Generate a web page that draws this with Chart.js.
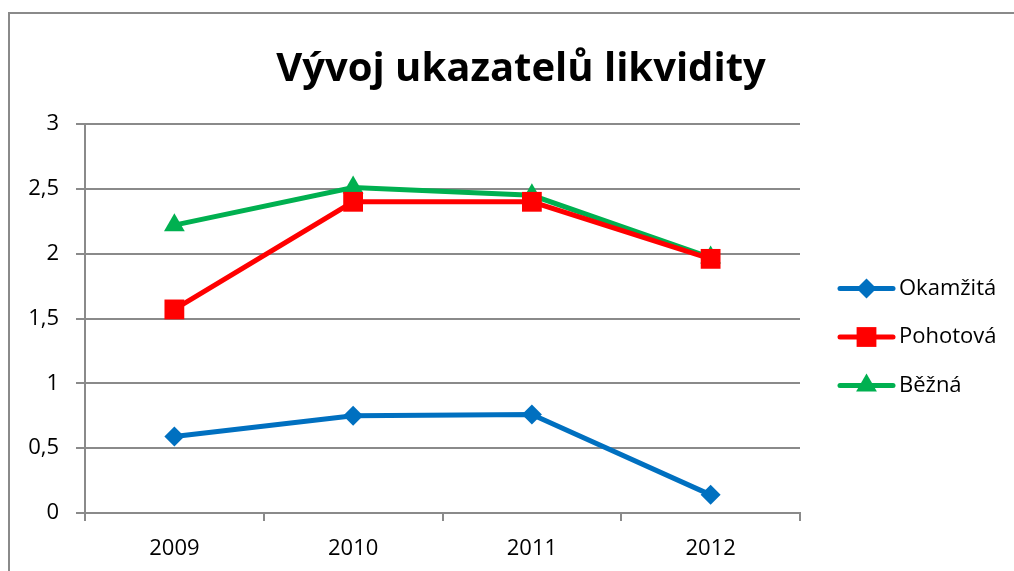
<!DOCTYPE html>
<html>
<head>
<meta charset="utf-8">
<script src="https://cdn.jsdelivr.net/npm/chart.js@4/dist/chart.umd.min.js"></script>
<style>
html,body{margin:0;padding:0;background:#fff;overflow:hidden;}
#wrap{width:1014px;height:571px;position:relative;}
</style>
</head>
<body>
<div id="wrap"><canvas id="c" width="1014" height="571"></canvas></div>
<script>
const categories = ['2009', '2010', '2011', '2012'];
const okamzita = [0.59, 0.75, 0.76, 0.14];
const pohotova = [1.57, 2.40, 2.40, 1.96];
const bezna = [2.22, 2.51, 2.45, 1.97];
const seriesNames = ['Okamžitá', 'Pohotová', 'Běžná'];
const yTicks = [0, 0.5, 1, 1.5, 2, 2.5, 3];
const titleText = 'Vývoj ukazatelů likvidity';

const FONT = "'Open Sans', sans-serif";
const GRID = '#8a8a8a';

const frame = {
  id: 'frame',
  beforeDraw(chart) {
    const ctx = chart.ctx;
    ctx.save();
    ctx.fillStyle = '#fff';
    ctx.fillRect(0, 0, chart.width, chart.height);
    ctx.strokeStyle = '#8a8a8a';
    ctx.lineWidth = 2;
    ctx.beginPath();
    ctx.moveTo(9, chart.height + 5);
    ctx.lineTo(9, 13);
    ctx.lineTo(chart.width + 5, 13);
    ctx.stroke();
    ctx.restore();
  },
  afterDraw(chart) {
    const ctx = chart.ctx;
    ctx.save();
    ctx.fillStyle = '#fff';
    ctx.fillRect(chart.width - 16, 15, 16, chart.height - 15);
    ctx.restore();
  }
};

const sideLegend = {
  id: 'sideLegend',
  afterDraw(chart) {
    const ctx = chart.ctx;
    const area = chart.chartArea;
    const x0 = area.right + 40, x1 = area.right + 93, tx = area.right + 99;
    const rowH = 48.5;
    const n = chart.data.datasets.length;
    const midY = 337;
    chart.data.datasets.forEach((ds, i) => {
      const y = midY + (i - (n - 1) / 2) * rowH;
      ctx.save();
      ctx.strokeStyle = ds.borderColor;
      ctx.lineWidth = ds.borderWidth;
      ctx.lineCap = 'round';
      ctx.beginPath();
      ctx.moveTo(x0, y);
      ctx.lineTo(x1, y);
      ctx.stroke();
      ctx.restore();
      ctx.save();
      ctx.fillStyle = ds.pointBackgroundColor;
      ctx.strokeStyle = ds.pointBorderColor;
      ctx.lineWidth = 0;
      Chart.helpers.drawPoint(ctx, {
        pointStyle: ds.pointStyle, rotation: 0, radius: ds.pointRadius, borderWidth: 0
      }, (x0 + x1) / 2, y);
      ctx.restore();
      ctx.save();
      ctx.fillStyle = '#000';
      ctx.font = '22px ' + FONT;
      ctx.textBaseline = 'middle';
      ctx.textAlign = 'left';
      ctx.fillText(ds.label, tx, y);
      ctx.restore();
    });
  }
};

function ds(label, data, color, style, radius) {
  return {
    label, data,
    borderColor: color, backgroundColor: color,
    borderWidth: 5,
    pointStyle: style, pointRadius: radius, pointHoverRadius: radius,
    pointBackgroundColor: color, pointBorderColor: color, pointBorderWidth: 0,
    tension: 0, fill: false
  };
}

new Chart(document.getElementById('c'), {
  type: 'line',
  data: {
    labels: categories,
    datasets: [
      ds(seriesNames[0], okamzita, '#0070C0', 'rectRot', 10),
      ds(seriesNames[1], pohotova, '#FF0000', 'rect', 14),
      ds(seriesNames[2], bezna, '#00B050', 'triangle', 12)
    ]
  },
  options: {
    responsive: false,
    animation: false,
    layout: { padding: { left: 28, right: 0, top: 0, bottom: 0 } },
    plugins: {
      legend: { display: false },
      tooltip: { enabled: false },
      title: {
        display: true,
        text: titleText,
        color: '#000',
        font: { family: FONT, size: 40, weight: 'bold', lineHeight: 1.2 },
        padding: { top: 46, bottom: 30 }
      }
    },
    scales: {
      x: {
        type: 'category',
        offset: true,
        grid: { display: true, drawOnChartArea: false, drawTicks: true, tickLength: 8, offset: true, color: GRID, lineWidth: 2 },
        border: { display: true, color: GRID, width: 2 },
        ticks: { color: '#000', font: { family: FONT, size: 22 }, padding: 15 },
        afterFit(s) { s.height = 58; }
      },
      y: {
        min: 0, max: 3,
        afterBuildTicks(s) { s.ticks = yTicks.map(v => ({ value: v })); },
        grid: { color: GRID, lineWidth: 2, drawTicks: true, tickLength: 9 },
        border: { display: true, color: GRID, width: 2 },
        ticks: {
          color: '#000', font: { family: FONT, size: 22 }, padding: 17,
          callback: v => String(v).replace('.', ',')
        },
        afterFit(s) { s.width = 57; }
      },
      side: {
        position: 'right',
        display: true,
        grid: { display: false, drawTicks: false },
        border: { display: false, width: 0, color: 'rgba(0,0,0,0)' },
        ticks: { display: false },
        afterFit(s) { s.width = 214; }
      }
    }
  },
  plugins: [frame, sideLegend]
});
</script>
</body>
</html>
